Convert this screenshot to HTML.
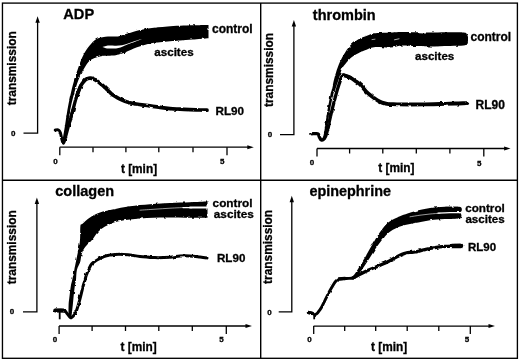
<!DOCTYPE html>
<html><head><meta charset="utf-8"><title>Platelet aggregation</title>
<style>
html,body{margin:0;padding:0;background:#fff;}
body{width:520px;height:361px;overflow:hidden;}
svg{display:block;filter:grayscale(1) blur(0.3px);}
text{font-family:"Liberation Sans",sans-serif;font-weight:bold;fill:#000;stroke:#000;stroke-width:0.3px;}
</style></head>
<body>
<svg width="520" height="361" viewBox="0 0 520 361">
<defs>
<filter id="rg" filterUnits="userSpaceOnUse" x="0" y="0" width="520" height="361">
<feTurbulence type="fractalNoise" baseFrequency="0.22" numOctaves="2" seed="3" result="n"/>
<feDisplacementMap in="SourceGraphic" in2="n" scale="2.6" xChannelSelector="R" yChannelSelector="G"/>
</filter>
</defs>
<rect width="520" height="361" fill="#fff"/>
<rect x="2.45" y="3.1" width="514.95" height="355.2" fill="none" stroke="#000" stroke-width="1.35"/>
<line x1="260.7" y1="3" x2="260.7" y2="358" stroke="#000" stroke-width="1.4"/>
<line x1="2.6" y1="180.2" x2="517.5" y2="180.2" stroke="#000" stroke-width="1.4"/>
<text x="63.3" y="19.0" font-size="14.6" text-anchor="start" >ADP</text>
<path d="M23.5 133.2 H37.6 V20.3" fill="none" stroke="#000" stroke-width="1.3"/>
<path d="M37.6 16.3 l-2.2 6.5 h4.4 z" fill="#000"/>
<text x="13.2" y="135.6" font-size="8.0" text-anchor="middle" >0</text>
<path d="M59.7 147.2 H249.8" fill="none" stroke="#000" stroke-width="1.3"/>
<path d="M253.8 147.2 l-6.5 -2.0 v4.0 z" fill="#000"/>
<line x1="59.8" y1="147.2" x2="59.8" y2="155.2" stroke="#000" stroke-width="1.3"/>
<line x1="93.0" y1="147.2" x2="93.0" y2="152.2" stroke="#000" stroke-width="1.3"/>
<line x1="125.9" y1="147.2" x2="125.9" y2="152.2" stroke="#000" stroke-width="1.3"/>
<line x1="158.8" y1="147.2" x2="158.8" y2="152.2" stroke="#000" stroke-width="1.3"/>
<line x1="193.0" y1="147.2" x2="193.0" y2="152.2" stroke="#000" stroke-width="1.3"/>
<line x1="227.0" y1="147.2" x2="227.0" y2="155.2" stroke="#000" stroke-width="1.3"/>
<text x="55.6" y="163.8" font-size="8.0" text-anchor="middle" >0</text>
<text x="222.2" y="163.8" font-size="8.0" text-anchor="middle" >5</text>
<text x="139" y="173.0" font-size="11.85" text-anchor="middle" >t [min]</text>
<text transform="translate(15.7 105.3) rotate(-90)" font-size="11.9">transmission</text>
<text x="212" y="33.2" font-size="12" text-anchor="start" >control</text>
<text x="154.3" y="55.7" font-size="11.6" text-anchor="start" >ascites</text>
<text x="215.5" y="114.7" font-size="11.7" text-anchor="start" >RL90</text>
<path d="M55.2 130.0 C55.8 130.0 57.8 129.6 58.6 130.0 C59.5 130.4 59.8 131.2 60.3 132.5 C60.8 133.8 61.1 136.2 61.6 138.0 C62.1 139.8 62.7 143.4 63.4 143.2 C64.1 143.0 64.7 140.0 65.6 137.0 C66.5 134.0 67.5 129.9 68.7 125.4 C69.9 120.9 72.2 112.6 72.9 110.0" fill="none" stroke="#000" stroke-width="3.0" stroke-linecap="round" stroke-linejoin="round" filter="url(#rg)"/>
<path d="M68.7 125.4 C69.4 122.8 71.6 114.8 72.9 110.0 C74.2 105.2 75.3 100.7 76.6 96.6 C77.9 92.5 80.2 87.3 80.9 85.5" fill="none" stroke="#000" stroke-width="3.3" stroke-linecap="round" stroke-linejoin="round" filter="url(#rg)"/>
<path d="M76.6 96.6 C77.3 94.8 79.5 88.2 80.9 85.5 C82.3 82.8 83.8 81.5 84.9 80.3 C86.0 79.1 86.6 79.0 87.5 78.6 C88.4 78.2 89.4 78.0 90.5 78.1 C91.6 78.2 92.8 78.7 94.0 79.2 C95.2 79.7 96.3 80.5 97.5 81.3 C98.7 82.1 100.0 83.2 101.0 84.0 C102.0 84.8 102.7 85.4 103.8 86.4 C104.8 87.4 106.3 88.8 107.5 90.0 C108.7 91.2 109.8 92.2 111.0 93.3 C112.2 94.3 113.5 95.3 115.0 96.3 C116.5 97.3 118.3 98.4 120.0 99.2 C121.7 100.0 123.3 100.7 125.0 101.3 C126.7 101.9 128.3 102.3 130.0 102.7 C131.7 103.1 133.0 103.5 135.0 103.8 C137.0 104.1 139.5 104.5 142.0 104.8 C144.5 105.1 147.0 105.4 150.0 105.8 C153.0 106.2 156.7 106.8 160.0 107.3 C163.3 107.8 166.7 108.3 170.0 108.6 C173.3 108.9 176.7 109.0 180.0 109.2 C183.3 109.4 186.7 109.5 190.0 109.6 C193.3 109.7 197.2 109.9 200.0 110.0 C202.8 110.1 205.8 110.2 207.0 110.2" fill="none" stroke="#000" stroke-width="3.7" stroke-linecap="round" stroke-linejoin="round" filter="url(#rg)"/>
<path d="M62.4 141.0 C62.8 138.4 64.2 130.6 65.0 125.4 C65.8 120.2 66.6 114.8 67.4 110.0 C68.2 105.2 69.2 100.7 70.1 96.6 C71.0 92.5 71.7 89.3 72.7 85.5 C73.7 81.7 74.9 77.8 76.2 73.8 C77.6 69.7 79.1 64.9 80.6 61.2 C82.1 57.6 83.2 54.8 85.0 51.9 C86.8 49.0 89.2 46.0 91.2 43.8 C93.3 41.5 94.7 39.8 97.5 38.6 C100.3 37.4 104.6 37.0 108.0 36.6 C111.4 36.2 114.8 36.9 118.0 36.4 C121.2 35.9 124.3 34.6 127.5 33.6 C130.7 32.6 133.2 31.6 137.0 30.7 C140.8 29.8 144.9 28.9 150.0 28.2 C155.1 27.5 160.4 26.9 167.5 26.4 C174.6 25.9 185.7 25.5 192.5 25.3 C199.3 25.1 205.8 25.1 208.5 25.0 L208.5 38.2 C205.8 38.4 197.2 39.2 192.5 39.6 C187.8 40.0 183.8 40.2 180.0 40.5 C176.2 40.8 173.3 41.0 170.0 41.3 C166.7 41.6 163.3 41.9 160.0 42.3 C156.7 42.6 153.8 42.6 150.0 43.4 C146.2 44.2 141.2 45.8 137.0 47.3 C132.8 48.8 128.0 51.3 125.0 52.5 C122.0 53.7 120.8 53.9 118.8 54.4 C116.7 54.9 115.0 55.4 112.5 55.6 C110.0 55.8 106.5 55.5 103.8 55.8 C101.0 56.1 98.5 56.7 96.2 57.5 C94.0 58.3 91.9 59.0 90.0 60.6 C88.1 62.2 86.7 64.3 85.0 66.9 C83.3 69.5 81.4 73.2 80.0 76.2 C78.6 79.3 77.6 82.1 76.5 85.5 C75.4 88.9 74.3 92.5 73.3 96.6 C72.2 100.7 71.1 105.2 70.2 110.0 C69.3 114.8 68.9 119.8 68.0 125.4 C67.1 131.0 65.2 140.5 64.6 143.5Z" fill="#000" filter="url(#rg)"/>
<path d="M102.5 47.0 C103.1 46.8 104.8 46.1 106.0 45.9 C107.2 45.7 108.3 45.6 110.0 45.6 C111.7 45.6 114.0 45.8 116.0 45.7 C118.0 45.6 120.0 45.6 122.0 45.2 C124.0 44.8 125.8 44.1 128.0 43.4 C130.2 42.7 132.7 41.7 135.0 41.0 C137.3 40.3 140.8 39.3 142.0 39.0 C143.2 38.7 143.2 38.5 142.0 39.0 C140.8 39.5 137.3 40.9 135.0 41.8 C132.7 42.7 129.8 43.6 128.0 44.3 C126.2 45.0 125.2 45.4 124.0 45.9 C122.8 46.4 121.8 47.0 120.5 47.4 C119.2 47.8 117.8 48.2 116.0 48.4 C114.2 48.6 111.7 48.6 110.0 48.6 C108.3 48.6 107.2 48.5 106.0 48.2 C104.8 47.9 103.1 47.2 102.5 47.0Z" fill="#fff"/>
<text x="312.8" y="19.6" font-size="14.5" text-anchor="start" >thrombin</text>
<path d="M280 134.6 H293.9 V24.1" fill="none" stroke="#000" stroke-width="1.3"/>
<path d="M293.9 20.1 l-2.2 6.5 h4.4 z" fill="#000"/>
<text x="270" y="137.2" font-size="8.0" text-anchor="middle" >0</text>
<path d="M317.0 148.5 H506.6" fill="none" stroke="#000" stroke-width="1.3"/>
<path d="M510.6 148.5 l-6.5 -2.0 v4.0 z" fill="#000"/>
<line x1="317.0" y1="148.5" x2="317.0" y2="156.5" stroke="#000" stroke-width="1.3"/>
<line x1="349.6" y1="148.5" x2="349.6" y2="153.5" stroke="#000" stroke-width="1.3"/>
<line x1="382.8" y1="148.5" x2="382.8" y2="153.5" stroke="#000" stroke-width="1.3"/>
<line x1="416.3" y1="148.5" x2="416.3" y2="153.5" stroke="#000" stroke-width="1.3"/>
<line x1="449.9" y1="148.5" x2="449.9" y2="153.5" stroke="#000" stroke-width="1.3"/>
<line x1="483.8" y1="148.5" x2="483.8" y2="156.5" stroke="#000" stroke-width="1.3"/>
<text x="311.9" y="165.4" font-size="8.0" text-anchor="middle" >0</text>
<text x="479.2" y="165.7" font-size="8.0" text-anchor="middle" >5</text>
<text x="396.3" y="171.8" font-size="11.85" text-anchor="middle" >t [min]</text>
<text transform="translate(272.8 107.0) rotate(-90)" font-size="11.9">transmission</text>
<text x="470.5" y="40.6" font-size="12" text-anchor="start" >control</text>
<text x="415" y="59.6" font-size="11.6" text-anchor="start" >ascites</text>
<text x="475.5" y="108.8" font-size="12" text-anchor="start" >RL90</text>
<path d="M311.8 133.8 C312.8 133.8 316.6 133.3 317.8 133.8 C319.1 134.3 318.7 136.0 319.3 137.0 C319.9 138.0 320.5 139.6 321.3 139.9 C322.1 140.2 323.1 140.1 324.0 139.0 C324.9 137.9 325.4 137.8 326.6 133.5 C327.8 129.2 329.6 120.0 331.2 113.4 C332.8 106.8 334.7 99.3 336.1 94.1 C337.5 88.9 338.7 85.5 339.7 82.4 C340.7 79.3 341.4 76.8 342.2 75.6 C342.9 74.4 342.8 75.0 344.2 75.3 C345.6 75.6 349.4 77.2 350.4 77.6" fill="none" stroke="#000" stroke-width="3.3" stroke-linecap="round" stroke-linejoin="round" filter="url(#rg)"/>
<path d="M344.2 75.3 C345.2 75.7 348.4 76.6 350.4 77.6 C352.4 78.6 354.6 80.4 356.2 81.5 C357.8 82.6 358.5 82.8 360.1 84.4 C361.7 86.0 364.0 89.2 365.9 91.2 C367.8 93.2 369.8 94.8 371.7 96.3 C373.6 97.8 375.8 99.4 377.5 100.4 C379.2 101.5 380.4 102.0 382.0 102.6 C383.6 103.2 385.2 103.5 387.0 103.8 C388.8 104.1 390.8 104.1 393.0 104.2 C395.2 104.3 397.2 104.4 400.0 104.4 C402.8 104.5 405.8 104.5 410.0 104.5 C414.2 104.5 420.0 104.5 425.0 104.4 C430.0 104.3 435.0 104.2 440.0 104.0 C445.0 103.8 450.4 103.7 455.0 103.5 C459.6 103.3 465.2 103.2 467.3 103.1" fill="none" stroke="#000" stroke-width="3.8" stroke-linecap="round" stroke-linejoin="round" filter="url(#rg)"/>
<path d="M321.6 139.8 C322.0 138.8 323.0 138.2 323.9 133.8 C324.8 129.4 325.9 120.0 327.0 113.4 C328.1 106.8 329.8 98.0 330.6 94.1 C331.4 90.2 331.1 92.8 331.8 89.8 C332.5 86.8 333.7 80.4 334.9 76.2 C336.1 72.0 337.4 68.1 338.8 64.6 C340.2 61.0 341.7 58.1 343.6 54.9 C345.5 51.7 348.0 47.8 350.4 45.2 C352.8 42.6 355.7 40.8 358.1 39.4 C360.5 38.0 362.8 37.5 365.0 36.6 C367.2 35.7 369.2 34.6 371.2 34.0 C373.3 33.4 374.4 33.4 377.5 33.1 C380.6 32.9 385.8 32.7 390.0 32.5 C394.2 32.3 395.8 31.9 402.5 31.9 C409.2 31.9 422.1 32.4 430.0 32.5 C437.9 32.6 444.3 32.3 450.0 32.3 C455.7 32.3 461.2 32.2 464.0 32.6 C466.8 33.0 466.3 33.8 467.0 34.5 C467.7 35.2 467.8 36.6 468.0 37.0 L468.0 41.0 C467.8 41.4 467.8 42.8 467.0 43.6 C466.2 44.4 466.3 45.2 463.5 45.6 C460.7 46.0 455.6 45.9 450.0 46.0 C444.4 46.1 435.8 46.5 430.0 46.5 C424.2 46.5 419.6 46.3 415.0 46.1 C410.4 45.9 406.7 45.3 402.5 45.5 C398.3 45.7 394.2 47.3 390.0 47.5 C385.8 47.7 380.6 46.9 377.5 46.9 C374.4 46.9 373.3 47.1 371.2 47.7 C369.2 48.3 366.9 49.5 365.0 50.3 C363.1 51.1 362.2 51.2 360.1 52.3 C358.0 53.4 354.6 55.1 352.3 56.8 C350.0 58.5 348.3 60.5 346.5 62.6 C344.7 64.7 342.8 67.1 341.7 69.4 C340.6 71.7 340.8 72.8 339.7 76.2 C338.6 79.6 336.2 86.8 335.2 89.8 C334.1 92.8 334.4 90.2 333.4 94.1 C332.4 98.0 330.6 106.8 329.4 113.4 C328.2 120.0 327.0 129.3 326.0 133.8 C325.0 138.3 324.0 139.4 323.6 140.5Z" fill="#000" filter="url(#rg)"/>
<path d="M372.0 39.6 L375.0 39.2" fill="none" stroke="#fff" stroke-width="0.6" stroke-linecap="round" stroke-linejoin="round"/>
<path d="M394.5 39.8 L399.0 38.8" fill="none" stroke="#fff" stroke-width="0.7" stroke-linecap="round" stroke-linejoin="round"/>
<text x="55.3" y="196.3" font-size="14.5" text-anchor="start" >collagen</text>
<path d="M23 311.9 H36.9 V201.5" fill="none" stroke="#000" stroke-width="1.3"/>
<path d="M36.9 197.5 l-2.2 6.5 h4.4 z" fill="#000"/>
<text x="12" y="314.3" font-size="8.0" text-anchor="middle" >0</text>
<path d="M59.1 326.0 H248" fill="none" stroke="#000" stroke-width="1.3"/>
<path d="M252 326.0 l-6.5 -2.0 v4.0 z" fill="#000"/>
<line x1="59.1" y1="326.0" x2="59.1" y2="334.0" stroke="#000" stroke-width="1.3"/>
<line x1="92.1" y1="326.0" x2="92.1" y2="331.0" stroke="#000" stroke-width="1.3"/>
<line x1="125.5" y1="326.0" x2="125.5" y2="331.0" stroke="#000" stroke-width="1.3"/>
<line x1="158.8" y1="326.0" x2="158.8" y2="331.0" stroke="#000" stroke-width="1.3"/>
<line x1="192.3" y1="326.0" x2="192.3" y2="331.0" stroke="#000" stroke-width="1.3"/>
<line x1="226.3" y1="326.0" x2="226.3" y2="334.0" stroke="#000" stroke-width="1.3"/>
<text x="55" y="341.9" font-size="8.0" text-anchor="middle" >0</text>
<text x="221.6" y="341.9" font-size="8.0" text-anchor="middle" >5</text>
<text x="138.7" y="350.7" font-size="11.85" text-anchor="middle" >t [min]</text>
<text transform="translate(15.6 284.3) rotate(-90)" font-size="11.9">transmission</text>
<text x="212.6" y="207.1" font-size="11.8" text-anchor="start" >control</text>
<text x="213.8" y="217.6" font-size="11.8" text-anchor="start" >ascites</text>
<text x="217" y="262.2" font-size="11.6" text-anchor="start" >RL90</text>
<path d="M55.0 310.3 C56.5 310.3 61.8 309.8 63.8 310.3 C65.8 310.8 65.9 312.3 67.0 313.5 C68.1 314.7 69.5 317.1 70.5 317.6 C71.5 318.1 72.0 317.4 73.0 316.3 C74.0 315.2 75.1 314.2 76.2 311.2 C77.4 308.3 78.9 302.9 80.0 298.8 C81.1 294.6 82.3 289.4 83.1 286.2 C83.9 283.1 84.4 282.0 85.0 280.0 C85.6 278.0 85.6 276.9 86.6 274.5 C87.5 272.1 89.5 267.4 90.7 265.3 C91.9 263.2 92.7 263.0 94.0 262.0 C95.3 261.0 96.9 260.0 98.4 259.2 C99.9 258.4 101.2 257.7 103.0 257.0 C104.8 256.3 106.2 255.6 109.0 255.2 C111.8 254.8 116.5 254.3 120.0 254.3 C123.5 254.3 126.7 254.7 130.0 255.0 C133.3 255.3 135.8 256.0 140.0 256.4 C144.2 256.8 150.0 257.5 155.0 257.6 C160.0 257.7 165.8 257.5 170.0 257.2 C174.2 256.9 176.7 256.2 180.0 256.0 C183.3 255.8 186.7 255.8 190.0 256.0 C193.3 256.2 197.2 256.7 200.0 257.0 C202.8 257.3 205.8 257.8 207.0 258.0" fill="none" stroke="#000" stroke-width="3.0" stroke-linecap="round" stroke-linejoin="round" filter="url(#rg)"/>
<line x1="59.7" y1="310" x2="59.7" y2="319.3" stroke="#000" stroke-width="1.8"/>
<path d="M55.3 310.5 L64.5 310.7" fill="none" stroke="#000" stroke-width="3.9" stroke-linecap="round" stroke-linejoin="round" filter="url(#rg)"/>
<path d="M68.5 316.0 C68.5 314.2 68.5 307.9 68.6 305.0 C68.7 302.1 68.8 301.9 69.2 298.8 C69.6 295.6 70.3 289.4 70.8 286.2 C71.3 283.1 71.6 282.7 72.2 280.0 C72.8 277.3 73.3 274.6 74.3 269.9 C75.3 265.2 77.0 256.6 78.0 251.6 C79.0 246.6 79.6 244.3 80.0 240.0 C80.4 235.7 80.0 228.7 80.4 226.0 C80.8 223.3 80.9 225.1 82.5 223.7 C84.1 222.3 87.1 219.4 90.0 217.5 C92.9 215.6 96.2 213.8 100.0 212.5 C103.8 211.2 107.5 210.7 112.5 209.6 C117.5 208.5 123.8 207.1 130.0 206.2 C136.2 205.3 143.3 204.7 150.0 204.2 C156.7 203.7 163.3 203.3 170.0 203.0 C176.7 202.7 183.8 202.5 190.0 202.3 C196.2 202.1 204.6 201.7 207.5 201.6 L207.5 217.8 C204.6 217.8 197.9 217.7 190.0 217.7 C182.1 217.7 169.2 217.4 160.0 217.6 C150.8 217.8 142.1 218.3 135.0 219.0 C127.9 219.7 122.5 220.2 117.5 221.5 C112.5 222.8 108.3 224.7 105.0 226.5 C101.7 228.3 99.6 230.3 97.5 232.5 C95.4 234.7 94.3 237.3 92.5 239.5 C90.7 241.7 88.1 243.7 86.5 245.5 C84.9 247.3 83.9 248.8 83.0 250.5 C82.1 252.2 81.8 254.1 81.3 256.0 C80.8 257.9 80.9 259.7 80.2 262.0 C79.5 264.3 77.6 266.9 76.9 269.9 C76.2 272.9 76.3 277.3 76.0 280.0 C75.7 282.7 75.2 283.1 74.8 286.2 C74.4 289.4 73.7 295.6 73.4 298.8 C73.1 301.9 73.1 302.0 72.8 305.0 C72.5 308.0 71.7 315.0 71.5 317.0Z" fill="#000" filter="url(#rg)"/>
<path d="M140.0 210.2 C142.5 210.0 150.0 209.5 155.0 209.2 C160.0 208.9 164.7 208.5 170.0 208.2 C175.3 207.9 184.2 207.5 187.0 207.4" fill="none" stroke="#fff" stroke-width="0.6" stroke-linecap="round" stroke-linejoin="round"/>
<path d="M183.0 207.6 L192.0 207.6" fill="none" stroke="#fff" stroke-width="1.2" stroke-linecap="round" stroke-linejoin="round"/>
<path d="M190.0 207.6 L209.0 207.6" fill="none" stroke="#fff" stroke-width="2.0" stroke-linecap="round" stroke-linejoin="round"/>
<text x="309.4" y="196.3" font-size="14.4" text-anchor="start" >epinephrine</text>
<path d="M278.7 311.9 H291.8 V199.8" fill="none" stroke="#000" stroke-width="1.3"/>
<path d="M291.8 195.8 l-2.2 6.5 h4.4 z" fill="#000"/>
<text x="269.5" y="314.7" font-size="8.0" text-anchor="middle" >0</text>
<path d="M313.6 326.1 H491" fill="none" stroke="#000" stroke-width="1.3"/>
<path d="M495 326.1 l-6.5 -2.0 v4.0 z" fill="#000"/>
<line x1="313.7" y1="326.1" x2="313.7" y2="334.1" stroke="#000" stroke-width="1.3"/>
<line x1="344.7" y1="326.1" x2="344.7" y2="331.1" stroke="#000" stroke-width="1.3"/>
<line x1="375.7" y1="326.1" x2="375.7" y2="331.1" stroke="#000" stroke-width="1.3"/>
<line x1="407.2" y1="326.1" x2="407.2" y2="331.1" stroke="#000" stroke-width="1.3"/>
<line x1="438.8" y1="326.1" x2="438.8" y2="331.1" stroke="#000" stroke-width="1.3"/>
<line x1="470.3" y1="326.1" x2="470.3" y2="334.1" stroke="#000" stroke-width="1.3"/>
<text x="309.5" y="342.0" font-size="8.0" text-anchor="middle" >0</text>
<text x="467.1" y="342.4" font-size="8.0" text-anchor="middle" >5</text>
<text x="389.2" y="350.7" font-size="11.85" text-anchor="middle" >t [min]</text>
<text transform="translate(272.2 283.9) rotate(-90)" font-size="11.9">transmission</text>
<text x="465.2" y="212.2" font-size="11.7" text-anchor="start" >control</text>
<text x="465.4" y="222.6" font-size="11.6" text-anchor="start" >ascites</text>
<text x="468" y="251.4" font-size="11.5" text-anchor="start" >RL90</text>
<path d="M308.3 312.4 C308.8 312.5 310.5 312.8 311.5 313.2 C312.5 313.6 313.3 314.5 314.2 314.6 C315.1 314.7 316.0 314.3 316.9 313.6 C317.8 312.9 318.7 311.4 319.5 310.3 C320.3 309.2 320.8 308.6 321.7 307.0 C322.6 305.4 323.9 302.6 325.0 300.4 C326.1 298.2 327.2 295.8 328.3 293.7 C329.4 291.6 330.6 289.5 331.7 287.6 C332.8 285.7 334.1 283.5 335.0 282.2 C335.9 280.9 336.4 280.4 337.2 279.9 C337.9 279.3 338.4 279.1 339.5 278.9 C340.6 278.7 342.4 278.7 344.0 278.6 C345.6 278.5 347.3 278.5 349.0 278.4 C350.7 278.3 353.2 278.1 354.0 278.0" fill="none" stroke="#000" stroke-width="2.9" stroke-linecap="round" stroke-linejoin="round" filter="url(#rg)"/>
<path d="M308.6 312.5 L312.5 313.4" fill="none" stroke="#000" stroke-width="3.6" stroke-linecap="round" stroke-linejoin="round" filter="url(#rg)"/>
<path d="M339.0 279.0 L345.0 278.6" fill="none" stroke="#000" stroke-width="3.5" stroke-linecap="round" stroke-linejoin="round" filter="url(#rg)"/>
<line x1="314.2" y1="314" x2="314.2" y2="319.3" stroke="#000" stroke-width="1.8"/>
<path d="M353.0 277.8 C354.0 277.3 357.0 275.8 359.0 274.8 C361.0 273.8 363.0 272.8 365.0 271.8 C367.0 270.8 368.9 269.9 371.0 269.0 C373.1 268.1 375.3 267.3 377.5 266.4 C379.7 265.5 381.9 264.5 384.0 263.5 C386.1 262.5 388.2 261.6 390.0 260.6 C391.8 259.7 393.3 258.7 395.0 257.8 C396.7 256.9 398.5 255.9 400.0 255.2 C401.5 254.5 402.8 254.0 404.0 253.6 C405.2 253.2 406.3 252.9 407.5 252.7 C408.7 252.5 409.8 252.5 411.0 252.4 C412.2 252.3 413.5 252.3 415.0 252.0 C416.5 251.7 418.3 251.2 420.0 250.8 C421.7 250.4 423.3 250.0 425.0 249.6 C426.7 249.2 428.3 248.8 430.0 248.5 C431.7 248.2 432.5 247.9 435.0 247.6 C437.5 247.2 441.7 246.7 445.0 246.4 C448.3 246.1 452.3 246.1 455.0 246.0 C457.7 245.9 460.0 245.9 461.0 245.9" fill="none" stroke="#000" stroke-width="3.3" stroke-linecap="round" stroke-linejoin="round" filter="url(#rg)"/>
<path d="M452.0 246.0 L461.0 245.9" fill="none" stroke="#000" stroke-width="4.6" stroke-linecap="round" stroke-linejoin="round" filter="url(#rg)"/>
<path d="M352.3 277.0 C353.1 276.0 355.4 273.1 356.8 271.0 C358.2 268.9 359.3 266.4 360.7 264.2 C362.1 261.9 363.4 260.1 365.0 257.5 C366.6 254.9 368.3 251.5 370.0 248.6 C371.7 245.7 373.6 242.4 375.0 240.0 C376.4 237.6 377.4 235.9 378.7 234.0 C379.9 232.1 381.3 230.3 382.5 228.8 C383.7 227.2 384.8 225.8 386.0 224.6 C387.2 223.3 388.5 222.3 390.0 221.2 C391.5 220.2 393.3 219.2 395.0 218.4 C396.7 217.6 397.9 217.1 400.0 216.2 C402.1 215.4 405.0 214.3 407.5 213.5 C410.0 212.7 412.6 211.9 415.0 211.2 C417.4 210.6 419.5 210.0 422.0 209.5 C424.5 209.0 427.5 208.4 430.0 208.0 C432.5 207.6 434.5 207.4 437.0 207.2 C439.5 207.0 442.0 206.9 445.0 206.8 C448.0 206.7 452.8 206.7 455.0 206.7 C457.2 206.7 457.5 206.7 458.0 206.7 L458.0 218.6 C457.5 218.6 457.2 218.6 455.0 218.7 C452.8 218.8 448.0 218.9 445.0 219.0 C442.0 219.1 439.5 219.3 437.0 219.5 C434.5 219.7 432.5 219.8 430.0 220.2 C427.5 220.6 424.5 221.3 422.0 221.8 C419.5 222.3 417.0 222.7 415.0 223.0 C413.0 223.3 411.7 223.6 410.0 223.9 C408.3 224.2 406.7 224.6 405.0 225.0 C403.3 225.4 401.7 226.0 400.0 226.6 C398.3 227.2 396.5 228.0 395.0 228.8 C393.5 229.5 392.2 230.2 391.0 231.0 C389.8 231.8 388.7 232.6 387.5 233.8 C386.3 234.9 384.9 236.5 383.7 238.0 C382.4 239.5 381.4 240.6 380.0 242.5 C378.6 244.4 376.7 247.0 375.0 249.5 C373.3 252.0 371.7 254.8 370.0 257.5 C368.3 260.2 366.5 263.1 364.8 265.6 C363.1 268.2 361.4 270.6 359.8 272.8 C358.2 275.0 355.8 278.0 355.0 279.0Z" fill="#000" filter="url(#rg)"/>
<path d="M446.0 209.5 L459.2 209.4" fill="none" stroke="#000" stroke-width="5.3" stroke-linecap="round" stroke-linejoin="round" filter="url(#rg)"/>
<path d="M446.0 215.8 L458.8 215.7" fill="none" stroke="#000" stroke-width="5.3" stroke-linecap="round" stroke-linejoin="round" filter="url(#rg)"/>
<path d="M410.0 216.8 C411.7 216.5 416.7 215.7 420.0 215.2 C423.3 214.7 426.7 214.3 430.0 214.0 C433.3 213.7 438.3 213.3 440.0 213.2" fill="none" stroke="#fff" stroke-width="0.6" stroke-linecap="round" stroke-linejoin="round"/>
<path d="M438.0 213.2 C440.0 213.1 445.8 212.8 450.0 212.7 C454.2 212.6 460.8 212.6 463.0 212.6" fill="none" stroke="#fff" stroke-width="1.2" stroke-linecap="round" stroke-linejoin="round"/>
</svg>
</body></html>
